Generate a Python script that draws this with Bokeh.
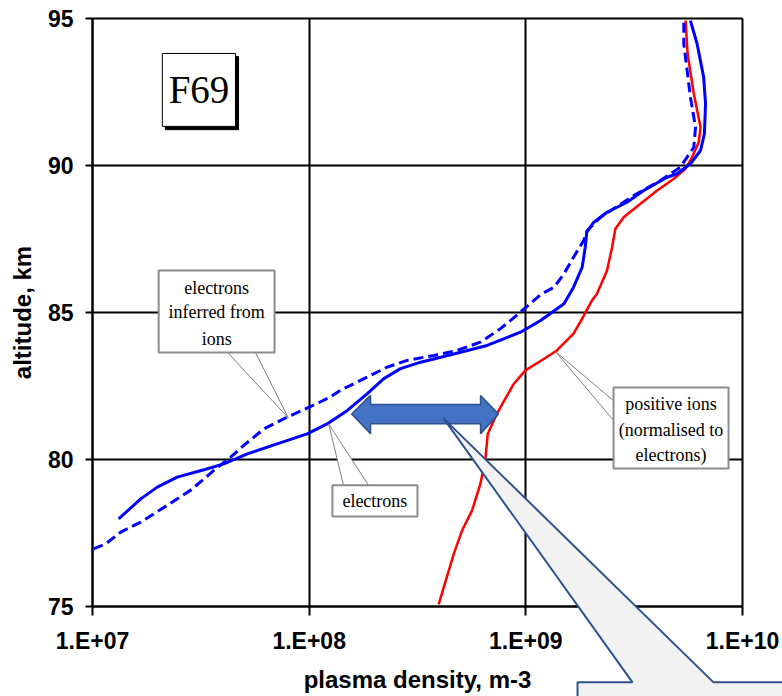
from bokeh.plotting import figure
from bokeh.models import Range1d, FixedTicker, Label, PolyAnnotation, CustomJSTickFormatter
from bokeh.embed import file_html
from bokeh.resources import INLINE

# ---------------- data ----------------
# electrons (solid blue)
alt_electrons = [77.98, 78.66, 79.06, 79.40, 79.65, 79.85, 80.19, 80.53, 80.87, 81.21,
                 81.67, 82.23, 82.75, 83.09, 83.31, 83.59, 83.88, 84.33, 84.73, 85.30,
                 85.86, 86.54, 87.22, 87.73, 88.07, 88.41, 88.75, 89.15, 89.60, 89.72,
                 90.06, 90.51, 91.08, 92.10, 93.00, 94.14, 94.93]
dens_electrons = [1.32e7, 1.67e7, 1.99e7, 2.46e7, 3.27e7, 4.04e7, 5.18e7, 7.11e7, 9.79e7, 1.21e8,
                  1.50e8, 1.85e8, 2.21e8, 2.64e8, 3.27e8, 4.65e8, 6.62e8, 9.44e8, 1.17e9, 1.50e9,
                  1.66e9, 1.82e9, 1.88e9, 1.91e9, 2.06e9, 2.37e9, 2.93e9, 3.50e9, 4.49e9, 4.99e9,
                  5.75e9, 6.40e9, 6.67e9, 6.75e9, 6.62e9, 6.17e9, 5.75e9]

# electrons inferred from ions (dashed blue)
alt_inferred = [76.96, 77.13, 77.53, 77.87, 78.44, 78.95, 79.29, 79.63, 80.08, 80.48,
                81.04, 81.44, 81.78, 82.12, 82.35, 82.80, 83.14, 83.37, 83.54, 83.71,
                83.99, 84.45, 85.01, 85.61, 85.86, 86.32, 86.88, 87.45, 87.79, 88.24,
                88.98, 89.49, 89.94, 90.62, 91.30, 92.32, 93.23, 94.14, 94.93]
dens_inferred = [1.01e7, 1.15e7, 1.35e7, 1.67e7, 2.21e7, 2.83e7, 3.21e7, 3.63e7, 4.34e7, 4.99e7,
                 6.18e7, 7.91e7, 1.00e8, 1.25e8, 1.39e8, 1.85e8, 2.29e8, 2.83e8, 3.76e8, 4.82e8,
                 6.17e8, 7.64e8, 9.44e8, 1.17e9, 1.35e9, 1.50e9, 1.66e9, 1.85e9, 1.92e9, 2.21e9,
                 3.15e9, 4.18e9, 5.16e9, 5.96e9, 6.07e9, 5.75e9, 5.55e9, 5.36e9, 5.36e9]

# positive ions, normalised to electrons (red)
alt_ions = [75.07, 76.79, 77.59, 78.27, 79.17, 80.08, 80.87, 81.33, 81.78, 82.57,
            83.03, 83.42, 83.71, 84.28, 84.79, 85.41, 85.64, 86.43, 87.22, 87.85,
            88.24, 88.70, 89.15, 89.55, 89.89, 90.28, 90.79, 91.30, 92.44, 93.80, 94.93]
dens_ions = [3.96e8, 4.65e8, 5.08e8, 5.65e8, 6.17e8, 6.52e8, 6.67e8, 7.11e8, 7.64e8, 8.79e8,
             9.95e8, 1.21e9, 1.39e9, 1.66e9, 1.82e9, 2.02e9, 2.13e9, 2.37e9, 2.50e9, 2.59e9,
             2.83e9, 3.38e9, 4.04e9, 4.82e9, 5.46e9, 5.85e9, 6.28e9, 6.40e9, 5.96e9, 5.58e9, 5.46e9]

x_ticks = [1e7, 1e8, 1e9, 1e10]
x_tick_labels = ["1.E+07", "1.E+08", "1.E+09", "1.E+10"]
y_ticks = [75, 80, 85, 90, 95]

x_title = "plasma density, m-3"
y_title = "altitude, km"
flight_label = "F69"
label_inferred = ["electrons", "inferred from", "ions"]
label_electrons = ["electrons"]
label_ions = ["positive ions", "(normalised to", "electrons)"]

X_MIN, X_MAX = x_ticks[0], x_ticks[-1]
Y_MIN, Y_MAX = y_ticks[0], y_ticks[-1]

# ---------------- figure ----------------
# The plotting frame fills the whole page (view ranges wider than the chart's
# own limits) so that the large callout, which runs past the axes in the
# reference, is not clipped; both axes are pinned at the chart's limits.
p = figure(width=782, height=696, x_axis_type="log",
           x_range=Range1d(3.761e6, 1.5296e10), y_range=Range1d(71.939, 95.612),
           output_backend="svg", toolbar_location=None,
           min_border_left=0, min_border_right=0, min_border_top=0, min_border_bottom=0)
p.background_fill_color = "white"
p.border_fill_color = "white"
p.outline_line_color = None

AX_FONT = "Liberation Sans"
SERIF = "Liberation Serif"

p.xaxis.ticker = FixedTicker(ticks=x_ticks)
p.xaxis.formatter = CustomJSTickFormatter(
    args=dict(tick_vals=x_ticks, tick_texts=x_tick_labels),
    code="""
    for (let i = 0; i < tick_vals.length; i++) {
        if (Math.abs(Math.log10(tick_vals[i]) - Math.log10(tick)) < 1e-6) return tick_texts[i];
    }
    return "";
    """)
p.yaxis.ticker = FixedTicker(ticks=y_ticks)
p.xaxis.fixed_location = Y_MIN
p.yaxis.fixed_location = X_MIN
p.xaxis.bounds = (X_MIN, X_MAX)
p.yaxis.bounds = (Y_MIN, Y_MAX)

for ax in (p.xaxis, p.yaxis):
    ax.axis_line_color = "black"
    ax.axis_line_width = 2
    ax.major_tick_line_color = "black"
    ax.major_tick_line_width = 2
    ax.major_tick_in = 0
    ax.minor_tick_line_color = None
    ax.major_label_text_font = AX_FONT
    ax.major_label_text_font_style = "bold"
    ax.major_label_text_font_size = "23px"
    ax.major_label_text_color = "black"
    ax.axis_label_text_font = AX_FONT
    ax.axis_label_text_font_style = "bold"
    ax.axis_label_text_font_size = "24px"
    ax.axis_label_text_color = "black"

p.xaxis.major_tick_out = 9
p.yaxis.major_tick_out = 7
p.xaxis.major_label_standoff = 12
p.yaxis.major_label_standoff = 12
p.xaxis.axis_label = x_title
p.yaxis.axis_label = y_title
p.xaxis.axis_label_standoff = 9
p.yaxis.axis_label_standoff = 9

p.xgrid.ticker = FixedTicker(ticks=x_ticks)
p.ygrid.ticker = FixedTicker(ticks=y_ticks)
for g in (p.xgrid, p.ygrid):
    g.grid_line_color = "black"
    g.grid_line_width = 2
    g.grid_line_alpha = 1.0
p.xgrid.bounds = (X_MIN, X_MAX)
p.ygrid.bounds = (Y_MIN, Y_MAX)
p.xgrid.cross_bounds = (Y_MIN, Y_MAX)
p.ygrid.cross_bounds = (X_MIN, X_MAX)

# ---------------- curves ----------------
p.line(dens_ions, alt_ions, line_color="#FF0000", line_width=2.5)
p.line(dens_inferred, alt_inferred, line_color="#0000FF", line_width=3, line_dash="10 5")
p.line(dens_electrons, alt_electrons, line_color="#0000FF", line_width=3)

# ---------------- annotations ----------------
def text_lines(lines, x, ys, size="18px"):
    for t, y in zip(lines, ys):
        p.add_layout(Label(x=x, y=y, text=t, text_align="center", text_baseline="middle",
                           text_font=SERIF, text_font_size=size, text_color="black"))

def callout(box, wedge):
    (l, r, t, b) = box
    p.patch(wedge[0], wedge[1], fill_color="white", line_color="#7f7f7f", line_width=1)
    p.quad(left=[l], right=[r], top=[t], bottom=[b], fill_color="white",
           line_color="#8c8c8c", line_width=2)

# F69 box with shadow
p.quad(left=[2.17e7], right=[4.72e7], top=[93.71], bottom=[91.22], fill_color="black", line_color="black")
p.quad(left=[2.10e7], right=[4.57e7], top=[93.81], bottom=[91.33], fill_color="white",
       line_color="black", line_width=1)
p.add_layout(Label(x=3.10e7, y=92.57, text=flight_label, text_align="center", text_baseline="middle",
                   text_font=SERIF, text_font_size="39px", text_color="black"))

# electrons inferred from ions
callout((2.02e7, 6.92e7, 86.43, 83.64),
        ([4.20e7, 8.0e7, 5.65e7], [83.64, 81.42, 83.64]))
text_lines(label_inferred, 3.74e7, [85.85, 85.00, 84.10])

# electrons
callout((1.28e8, 3.16e8, 79.12, 78.06),
        ([1.44e8, 1.23e8, 1.88e8], [79.12, 81.21, 79.12]))
text_lines(label_electrons, 2.01e8, [78.59])

# positive ions
callout((2.54e9, 8.62e9, 82.45, 79.69),
        ([2.54e9, 1.37e9, 2.54e9], [82.00, 83.67, 81.33]))
text_lines(label_ions, 4.68e9, [81.90, 81.02, 80.14])

# double-headed arrow
arrow_x = [1.57e8, 1.92e8, 1.92e8, 6.18e8, 6.18e8, 7.48e8, 6.18e8, 6.18e8, 1.92e8, 1.92e8]
arrow_y = [81.55, 82.18, 81.87, 81.87, 82.18, 81.55, 80.88, 81.22, 81.22, 80.88]
p.patch(arrow_x, arrow_y, fill_color="#4472C4", line_color="#2F528F", line_width=1.5)

# large grey callout (runs past the axes, as in the reference)
p.add_layout(PolyAnnotation(
    xs=[4.17e8, 3.107e9, 1.732e9, 1.732e9, 1.853e10, 1.853e10, 7.35e9],
    ys=[81.40, 72.42, 72.42, 71.12, 71.12, 72.42, 72.42],
    fill_color="#F2F2F2", fill_alpha=1.0, line_color="#2F528F", line_alpha=1.0,
    line_width=2, level="overlay"))

open("out.html", "w").write(file_html(p, INLINE))
